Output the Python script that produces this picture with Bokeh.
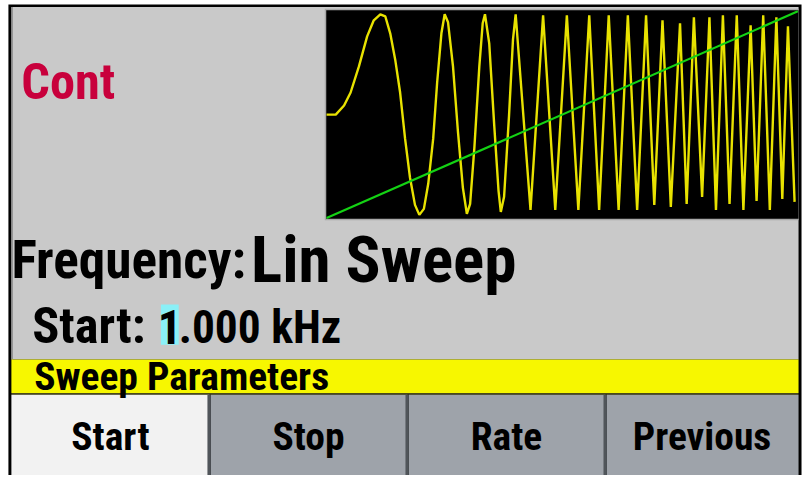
from bokeh.plotting import figure
from bokeh.models import Range1d
from bokeh.core.properties import value
from bokeh.embed import file_html
from bokeh.resources import INLINE

# ---------------- data ----------------
# chirp waveform: display sample index (0..477) and normalised amplitude
wave_t = [0, 9.3, 17.7, 24.3, 32.7, 41, 47.7, 54.3, 59.3, 64.3, 69.3, 74.3, 79.3, 84.3, 89.3,
          93.7, 98.3, 102.7, 107.7, 111.7, 116, 119.3, 122.7, 127.7, 132.7, 137.7, 141.7, 145,
          149.3, 154.3, 157.7, 160, 164.3, 169.3, 173.7, 176, 179.3, 184.3, 188.3, 191,
          206, 218.7, 231, 242.7, 254.3, 265.3, 275.3, 285, 295, 304.3, 313.7, 322.7, 331,
          339.3, 347.7, 357, 363.7, 371, 379.3, 386.7, 393.3, 400.3, 407, 414.3, 421, 428.3,
          434.3, 441, 447.7, 454.3, 460.3, 466, 472.7]
wave_v = [0.0, 0.0, 0.09, 0.22, 0.48, 0.78, 0.94, 1.0, 0.98, 0.81, 0.55, 0.22, -0.24, -0.63, -0.90,
          -1.0, -0.94, -0.69, -0.24, 0.32, 0.81, 1.0, 0.92, 0.48, -0.17, -0.73, -0.99, -0.89,
          -0.33, 0.48, 0.91, 1.0, 0.71, -0.10, -0.76, -0.97, -0.82, -0.01, 0.75, 1.0,
          -0.95, 0.99, -0.95, 0.99, -0.95, 0.99, -0.95, 0.99, -0.95, 0.99, -0.95, 0.99, -0.90,
          0.94, -0.92, 0.91, -0.89, 0.97, -0.82, 0.97, -0.95, 0.99, -0.89, 0.99, -0.95, 0.89,
          -0.86, 0.99, -0.95, 0.97, -0.84, 0.88, -0.87]
# linear frequency ramp (sweep start -> stop)
ramp_t = [0, 476]
ramp_v = [-1.03, 1.03]

mode_label = "Cont"
func_label = "Frequency:"
func_value = "Lin Sweep"
param_label = "Start:"
param_cursor_digit = "1"
param_rest = ".000 kHz"
menu_title = "Sweep Parameters"
softkeys = ["Start", "Stop", "Rate", "Previous"]
active_key = 0

# ---------------- layout constants (screen pixels of the 811x483 screen) ----------------
SCR_W, SCR_H = 811, 483
W, H = 803, 475
S = (W / SCR_W + H / SCR_H) / 2          # font scale
PLOT_L, PLOT_R, PLOT_T, PLOT_B = 329, 806, 10, 222
PLOT_X0 = 329.3      # t = 0
PLOT_YC = 116.0      # v = 0
AMP_PX = 102.0       # px per amplitude unit

FONT = value("Roboto Condensed")


def fs(px):
    return "%.1fpx" % (px * S)


def mid(baseline, size):
    # vertical centre of the capitals for a given baseline
    return baseline - 0.34 * size


p = figure(width=W, height=H, x_range=Range1d(0, SCR_W), y_range=Range1d(SCR_H, 0),
           x_axis_type=None, y_axis_type=None, min_border=0,
           output_backend="svg", toolbar_location=None,
           background_fill_color="white", border_fill_color="white", outline_line_color=None)
p.grid.visible = False

p.extra_x_ranges = {"wave": Range1d(0 - PLOT_X0, SCR_W - PLOT_X0)}
p.extra_y_ranges = {"wave": Range1d((PLOT_YC - SCR_H) / AMP_PX, PLOT_YC / AMP_PX)}

# frame & backgrounds
p.quad(left=[8], right=[809], top=[4], bottom=[483], fill_color="black", line_color=None)
p.quad(left=[11], right=[806], top=[6.5], bottom=[365], fill_color="#c9c9c9", line_color=None)
p.quad(left=[11], right=[12.5], top=[6.5], bottom=[365], fill_color="#8e8e8e", line_color=None)

# waveform area
p.quad(left=[PLOT_L - 1.5], right=[PLOT_R], top=[PLOT_T - 1.5], bottom=[PLOT_B + 1.5],
       fill_color="#a8a8a8", line_color=None)
p.quad(left=[PLOT_L], right=[PLOT_R], top=[PLOT_T], bottom=[PLOT_B],
       fill_color="black", line_color=None)
p.line(wave_t, wave_v, x_range_name="wave", y_range_name="wave",
       line_color="#e8e200", line_width=2.4)
p.line(ramp_t, ramp_v, x_range_name="wave", y_range_name="wave",
       line_color="#14d214", line_width=2.2)

# menu title bar and softkey backgrounds
p.quad(left=[11], right=[806], top=[365], bottom=[399], fill_color="#f7f700", line_color=None)
p.quad(left=[11], right=[806], top=[399], bottom=[401], fill_color="#4a4a1a", line_color=None)
slot_w = 200
slots = []
for i, lab in enumerate(softkeys):
    left = 11 + i * slot_w
    right = min(left + slot_w, 806)
    slots.append((left, right))
    col = "#f2f2f2" if i == active_key else "#9ea3aa"
    p.quad(left=[left + 1.5 if i else left], right=[right], top=[401], bottom=[483],
           fill_color=col, line_color=None)
    if i:
        p.quad(left=[left - 2], right=[left + 1.5], top=[401], bottom=[483],
               fill_color="#50555a", line_color=None)

# cursor highlight
p.quad(left=[162], right=[180], top=[309], bottom=[350], fill_color="#8af0f7", line_color=None)


def label(x, baseline, size, txt, color="black", align="left"):
    p.text(x=[x], y=[mid(baseline, size)], text=[txt], text_font=FONT, text_font_style="bold",
           text_font_size=fs(size), text_color=color, text_baseline="middle", text_align=align)


label(21, 100, 51, mode_label, color="#c8003c")
label(11, 282, 54, func_label)
label(253, 286, 66, func_value)
label(32, 348, 51, param_label)
label(171, 348, 48, param_cursor_digit, align="center")
label(180, 348, 46, param_rest)
label(34, 396, 40, menu_title)
for (left, right), lab in zip(slots, softkeys):
    label((left + right) / 2, 457, 40, lab, align="center")

open("out.html", "w").write(file_html(p, INLINE))
